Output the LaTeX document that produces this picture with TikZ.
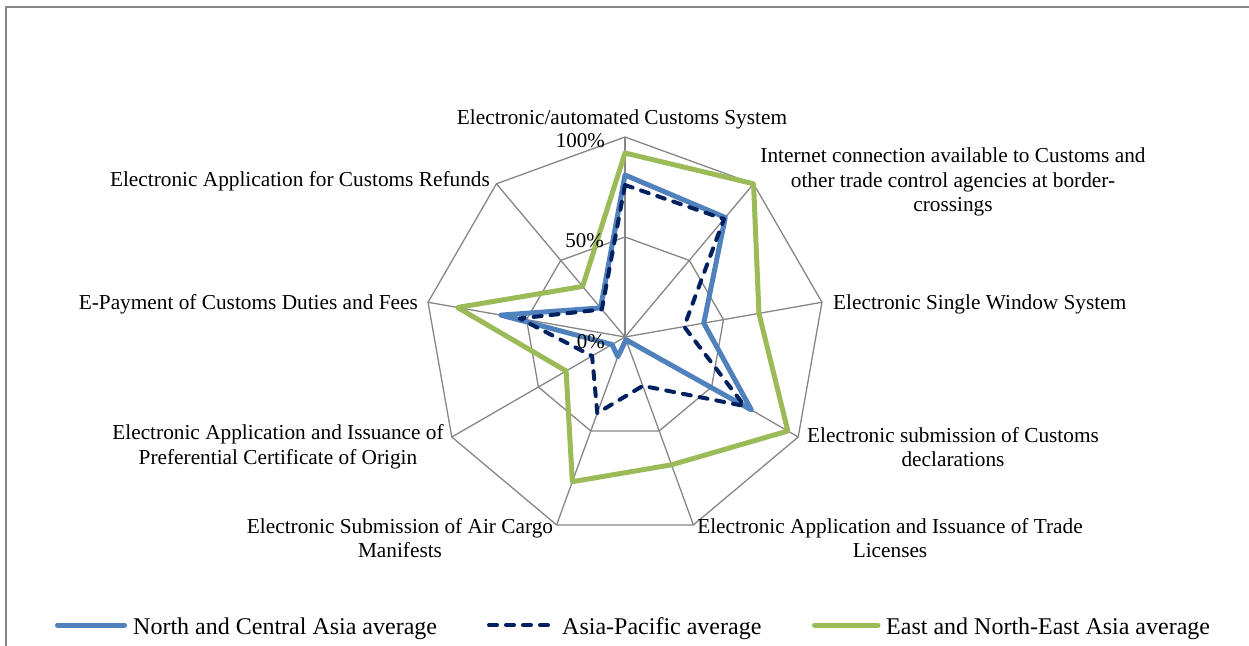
\documentclass[tikz,border=0pt]{standalone}
\usepackage{fontspec}
\setmainfont{Liberation Serif}
\usepackage{tikz}
\usetikzlibrary{arrows}
\definecolor{ncablue}{RGB}{79,129,189}
\definecolor{apnavy}{RGB}{0,32,96}
\definecolor{enegreen}{RGB}{155,187,89}
\definecolor{gridgray}{RGB}{134,134,134}

\begin{document}
\begin{tikzpicture}[
  gridline/.style={draw=gridgray,line width=1.3bp},
  axislabel/.style={font=\fontsize{21.3bp}{24.5bp}\selectfont,inner sep=0pt,align=center},
  pctlabel/.style={font=\fontsize{21bp}{24.5bp}\selectfont,inner sep=0pt,anchor=east},
  legendlabel/.style={font=\fontsize{24bp}{28bp}\selectfont,inner sep=0pt,anchor=west},
  ncaline/.style={draw=ncablue,line width=5bp,line join=round},
  apline/.style={draw=apnavy,line width=4bp,dash pattern=on 8bp off 9bp,line cap=round,line join=round},
  eneline/.style={draw=enegreen,line width=5bp,line join=round}]

\useasboundingbox (0bp,0bp) rectangle (1249bp,-646bp);
\draw [draw=gridgray,line width=2bp] (6bp,-646bp) -- (6bp,-6.5bp) -- (1249bp,-6.5bp);

\begin{scope}[shift={(625bp,-337bp)}]
\coordinate (O) at (0bp,0bp);
\coordinate (A1) at (90:200bp);
\coordinate (A2) at (50:200bp);
\coordinate (A3) at (10:200bp);
\coordinate (A4) at (-30:200bp);
\coordinate (A5) at (-70:200bp);
\coordinate (A6) at (-110:200bp);
\coordinate (A7) at (-150:200bp);
\coordinate (A8) at (170:200bp);
\coordinate (A9) at (130:200bp);
\coordinate (B1) at (90:100bp);
\coordinate (B2) at (50:100bp);
\coordinate (B3) at (10:100bp);
\coordinate (B4) at (-30:100bp);
\coordinate (B5) at (-70:100bp);
\coordinate (B6) at (-110:100bp);
\coordinate (B7) at (-150:100bp);
\coordinate (B8) at (170:100bp);
\coordinate (B9) at (130:100bp);

% rings and spokes
\draw [gridline] (A1) -- (A2) -- (A3) -- (A4) -- (A5) -- (A6) -- (A7) -- (A8) -- (A9) -- cycle;
\draw [gridline] (B1) -- (B2) -- (B3) -- (B4) -- (B5) -- (B6) -- (B7) -- (B8) -- (B9) -- cycle;
\draw [gridline] (O) -- (A1);
\draw [gridline] (O) -- (A2);
\draw [gridline] (O) -- (A3);
\draw [gridline] (O) -- (A4);
\draw [gridline] (O) -- (A5);
\draw [gridline] (O) -- (A6);
\draw [gridline] (O) -- (A7);
\draw [gridline] (O) -- (A8);
\draw [gridline] (O) -- (A9);

% series
\draw [ncaline] (90:162bp) -- (50:156bp) -- (10:80bp) -- (-30:146bp) -- (-70:3bp) -- (-110:21bp) -- (-150:15bp) -- (170:126bp) -- (130:38bp) -- cycle;
\draw [apline] (90:152bp) -- (50:154bp) -- (10:60bp) -- (-30:138bp) -- (-70:52bp) -- (-110:81bp) -- (-150:38bp) -- (170:107bp) -- (130:36bp) -- cycle;
\draw [eneline] (90:184bp) -- (50:200bp) -- (10:136bp) -- (-30:188bp) -- (-70:136bp) -- (-110:154bp) -- (-150:68bp) -- (170:170bp) -- (130:66bp) -- cycle;
\end{scope}

\node (P100) at (605bp,-141bp)[pctlabel] {100\%};
\node (P50) at (604bp,-241bp)[pctlabel] {50\%};
\node (P0) at (605bp,-342bp)[pctlabel] {0\%};

\node (L1) at (622bp,-119.5bp)[axislabel] {Electronic/automated Customs System};
\node (L2) at (953bp,-182bp)[axislabel] {Internet connection available to Customs and\\other trade control agencies at border-\\crossings};
\node (L3) at (833bp,-304bp)[axislabel,anchor=west] {Electronic Single Window System};
\node (L4) at (953bp,-447bp)[axislabel] {Electronic submission of Customs\\declarations};
\node (L5) at (890bp,-538bp)[axislabel] {Electronic Application and Issuance of Trade\\Licenses};
\node (L6) at (400bp,-538bp)[axislabel] {Electronic Submission of Air Cargo\\Manifests};
\node (L7) at (278bp,-447bp)[axislabel] {Electronic Application and Issuance of\\Preferential Certificate of Origin};
\node (L8) at (418bp,-304bp)[axislabel,anchor=east] {E-Payment of Customs Duties and Fees};
\node (L9) at (490bp,-181bp)[axislabel,anchor=east] {Electronic Application for Customs Refunds};

% legend
\draw [ncaline,line cap=round] (57.5bp,-625bp) -- (124.5bp,-625bp);
\node (K1) at (133bp,-628.5bp)[legendlabel] {North and Central Asia average};
\draw [apline] (489bp,-625bp) -- (553bp,-625bp);
\node (K2) at (562bp,-628.5bp)[legendlabel] {Asia-Pacific average};
\draw [eneline,line cap=round] (814.5bp,-625bp) -- (878bp,-625bp);
\node (K3) at (886bp,-628.5bp)[legendlabel] {East and North-East Asia average};
\end{tikzpicture}
\end{document}
